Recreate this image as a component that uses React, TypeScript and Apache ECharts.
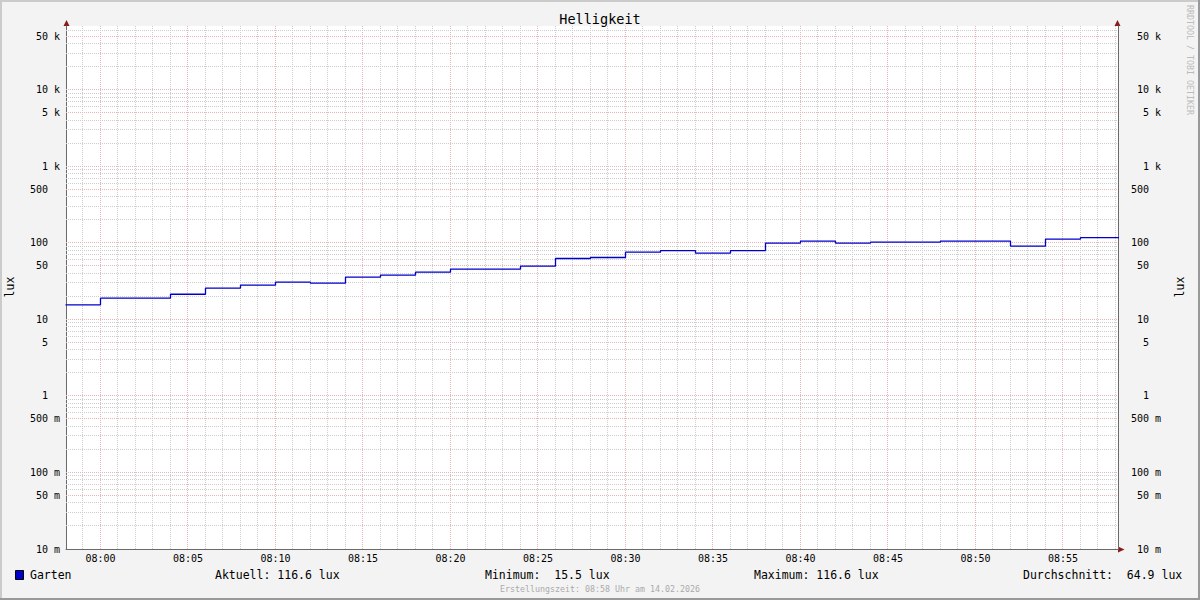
import React, { useEffect, useRef } from 'react';
import * as echarts from 'echarts';

const FONT = '"DejaVu Sans Mono", "Liberation Mono", monospace';

// Step segments: start minute (relative to 08:00) and value in lux
const segStarts = [-2, 0, 4, 6, 8, 10, 12, 14, 16, 18, 20, 24, 26, 28, 30, 32, 34, 36, 38, 40, 42, 44, 48, 52, 54, 56];
const segValues = [15.5, 18.9, 21.3, 25.6, 28.0, 30.6, 29.7, 35.6, 37.8, 41.4, 45.3, 49.6, 62.4, 64.3, 75.5, 79.3, 73.3, 79.3, 99.1, 105.2, 99.1, 102.0, 105.2, 90.5, 111.8, 116.6];
const endMinute = 58.2;

// visible time window in minutes relative to 08:00 (07:58:02 .. 08:58:08)
const xMin = -1.971;
const xMax = 58.143;
const baseHour = 8;
// vertical grid: one line per minute, major every 5 minutes
const xGridMinutes = [-1, 0, 1, 2, 3, 4, 5, 6, 7, 8, 9, 10, 11, 12, 13, 14, 15, 16, 17, 18, 19, 20, 21, 22, 23, 24, 25, 26, 27, 28, 29, 30, 31, 32, 33, 34, 35, 36, 37, 38, 39, 40, 41, 42, 43, 44, 45, 46, 47, 48, 49, 50, 51, 52, 53, 54, 55, 56, 57, 58];
const xLabelMinutes = [0, 5, 10, 15, 20, 25, 30, 35, 40, 45, 50, 55];

const yMin = 0.01;
const yMax = 68000;
const yLabelValues = [0.01, 0.05, 0.1, 0.5, 1, 5, 10, 50, 100, 500, 1000, 5000, 10000, 50000];
const yLabelTexts = ['10 m', '50 m', '100 m', '500 m', '1', '5', '10', '50', '100', '500', '1 k', '5 k', '10 k', '50 k'];
const gridMantissas = [1, 2, 3, 4, 5, 6, 7, 8, 9];
const gridDecades = [0.01, 0.1, 1, 10, 100, 1000, 10000];

const seriesName = 'Garten';
const statCurrent = '116.6';
const statMin = '15.5';
const statMax = '116.6';
const statAvg = '64.9';
const titleText = 'Helligkeit';
const unitText = 'lux';
const createdText = 'Erstellungszeit: 08:58 Uhr am 14.02.2026';
const watermark = 'RRDTOOL / TOBI OETIKER';

const MAJOR = '#E8B4B4';
const MINOR = '#CDCDCD';
const AXIS = '#6A6A6A';
const ARROW = '#8B1A1A';

function yGridValues(): number[] {
  const out: number[] = [];
  gridDecades.forEach((d) => {
    gridMantissas.forEach((m) => {
      const v = Number((m * d).toPrecision(6));
      if (v > yMin && v <= yMax) out.push(v);
    });
  });
  return out;
}

function isYMajor(v: number): boolean {
  return yLabelValues.some((l) => Math.abs(l - v) / l < 1e-6);
}

function yFormatter(val: number): string {
  const idx = yLabelValues.findIndex((v) => Math.abs(v - val) / v < 1e-6);
  if (idx < 0) return '';
  const t = yLabelTexts[idx];
  return t.indexOf(' ') < 0 ? `{n|${t}}` : t;
}

function xFormatter(val: number): string {
  const r = Math.round(val);
  if (Math.abs(val - r) > 1e-6 || xLabelMinutes.indexOf(r) < 0) return '';
  const total = baseHour * 60 + r;
  const h = Math.floor(total / 60);
  const m = total % 60;
  return `${String(h).padStart(2, '0')}:${String(m).padStart(2, '0')}`;
}

export default function App() {
  const ref = useRef<HTMLDivElement>(null);

  useEffect(() => {
    if (!ref.current) return;
    const chart = echarts.init(ref.current, undefined, { renderer: 'svg' });

    const data: [number, number][] = segStarts.map((s, i) => [s, segValues[i]]);
    data.push([endMinute, segValues[segValues.length - 1]]);

    const xGridData = xGridMinutes.map((m) => [m, 1, m % 5 === 0 ? 1 : 0]);
    const yGridData = yGridValues().map((v) => [0, v, isYMajor(v) ? 1 : 0]);

    const yAxisCommon = {
      type: 'log' as const,
      logBase: 10,
      min: yMin,
      max: yMax,
      axisTick: { show: false },
      minorTick: { show: false },
      minorSplitLine: { show: false },
      splitLine: { show: false },
    };

    const yLabel = (margin: number, align?: string) => ({
      customValues: yLabelValues,
      formatter: yFormatter,
      fontFamily: FONT,
      fontSize: 10,
      color: '#000',
      margin,
      showMinLabel: true,
      showMaxLabel: true,
      ...(align ? { align } : {}),
      rich: { n: { padding: [0, 12, 0, 0], fontFamily: FONT, fontSize: 10, color: '#000' } },
    });

    const legendY = 575;
    const legendText = (x: number, text: string) => ({
      type: 'text',
      x,
      y: legendY,
      style: { text, font: `11.5px ${FONT}`, fill: '#000', verticalAlign: 'middle', align: 'left' },
    });

    const vGridRender = (params: any, api: any) => {
      const cs = params.coordSys;
      const p = api.coord([api.value(0), api.value(1)]);
      const x = Math.floor(p[0] + 1e-6) + 0.5;
      if (x <= cs.x + 1 || x >= cs.x + cs.width - 1) return null;
      return {
        type: 'line',
        shape: { x1: x, y1: cs.y, x2: x, y2: cs.y + cs.height },
        style: { stroke: api.value(2) ? MAJOR : MINOR, lineWidth: 1, lineDash: [1, 1] },
        silent: true,
      };
    };
    const hGridRender = (params: any, api: any) => {
      const cs = params.coordSys;
      const p = api.coord([api.value(0), api.value(1)]);
      const y = Math.floor(p[1] + 1e-6) + 0.5;
      return {
        type: 'line',
        shape: { x1: cs.x, y1: y, x2: cs.x + cs.width, y2: y },
        style: { stroke: api.value(2) ? MAJOR : MINOR, lineWidth: 1, lineDash: [1, 1] },
        silent: true,
      };
    };

    chart.setOption({
      animation: false,
      backgroundColor: '#F3F3F3',
      textStyle: { fontFamily: FONT },
      grid: {
        left: 66,
        right: 82,
        top: 26,
        bottom: 51,
        show: true,
        backgroundColor: '#FFFFFF',
        borderWidth: 0,
      },
      xAxis: {
        type: 'value',
        min: xMin,
        max: xMax,
        axisLine: { show: true, onZero: false, lineStyle: { color: AXIS, width: 1 } },
        axisTick: { show: false },
        axisLabel: {
          customValues: xLabelMinutes,
          interval: 0,
          formatter: xFormatter,
          fontFamily: FONT,
          fontSize: 10,
          color: '#000',
          margin: 4,
          showMinLabel: true,
          showMaxLabel: true,
          hideOverlap: false,
        },
        splitLine: { show: false },
      },
      yAxis: [
        {
          ...yAxisCommon,
          position: 'left',
          axisLine: { show: true, onZero: false, lineStyle: { color: AXIS, width: 1 } },
          axisLabel: yLabel(6),
        },
        {
          ...yAxisCommon,
          position: 'right',
          axisLine: { show: true, onZero: false, lineStyle: { color: AXIS, width: 1 } },
          axisLabel: yLabel(43, 'right'),
        },
      ],
      series: [
        {
          type: 'custom',
          name: 'vgrid',
          data: xGridData,
          encode: { x: 0, y: 1 },
          renderItem: vGridRender,
          silent: true,
          z: 1,
          xAxisIndex: 0,
          yAxisIndex: 0,
        },
        {
          type: 'custom',
          name: 'hgrid',
          data: yGridData,
          encode: { x: 0, y: 1 },
          renderItem: hGridRender,
          silent: true,
          z: 1,
          xAxisIndex: 0,
          yAxisIndex: 0,
        },
        {
          name: seriesName,
          type: 'line',
          step: 'end',
          data,
          symbol: 'none',
          lineStyle: { color: '#0000CC', width: 1.3 },
          xAxisIndex: 0,
          yAxisIndex: 0,
          silent: true,
          clip: true,
          z: 5,
        },
      ],
      graphic: [
        { type: 'rect', shape: { x: 0, y: 0, width: 1200, height: 2 }, style: { fill: '#CBCBCB' }, silent: true },
        { type: 'rect', shape: { x: 0, y: 0, width: 2, height: 600 }, style: { fill: '#CBCBCB' }, silent: true },
        { type: 'rect', shape: { x: 0, y: 598, width: 1200, height: 2 }, style: { fill: '#999999' }, silent: true },
        { type: 'rect', shape: { x: 1198, y: 0, width: 2, height: 600 }, style: { fill: '#999999' }, silent: true },
        { type: 'polygon', shape: { points: [[63.5, 26], [69.5, 26], [66.5, 20]] }, style: { fill: ARROW }, silent: true },
        { type: 'polygon', shape: { points: [[1114.5, 26], [1120.5, 26], [1117.5, 20]] }, style: { fill: ARROW }, silent: true },
        { type: 'polygon', shape: { points: [[1118, 546.5], [1118, 552.5], [1124.5, 549.5]] }, style: { fill: ARROW }, silent: true },
        {
          type: 'text',
          x: 600,
          y: 19,
          style: { text: titleText, font: `13.5px ${FONT}`, fill: '#000', align: 'center', verticalAlign: 'middle' },
        },
        {
          type: 'text',
          x: 10,
          y: 287,
          rotation: Math.PI / 2,
          style: { text: unitText, font: `11.5px ${FONT}`, fill: '#000', align: 'center', verticalAlign: 'middle' },
        },
        {
          type: 'text',
          x: 1180,
          y: 287,
          rotation: Math.PI / 2,
          style: { text: unitText, font: `11.5px ${FONT}`, fill: '#000', align: 'center', verticalAlign: 'middle' },
        },
        {
          type: 'text',
          x: 1190,
          y: 60,
          rotation: -Math.PI / 2,
          style: { text: watermark, font: `8.3px ${FONT}`, fill: '#BBBBBB', align: 'center', verticalAlign: 'middle' },
        },
        {
          type: 'rect',
          shape: { x: 15.5, y: 570.5, width: 8, height: 9 },
          style: { fill: '#0000CC', stroke: '#000', lineWidth: 1 },
          silent: true,
        },
        legendText(30, seriesName),
        legendText(215, `Aktuell: ${statCurrent} ${unitText}`),
        legendText(485, `Minimum:  ${statMin} ${unitText}`),
        legendText(754, `Maximum: ${statMax} ${unitText}`),
        legendText(1023, `Durchschnitt:  ${statAvg} ${unitText}`),
        {
          type: 'text',
          x: 600,
          y: 589,
          style: { text: createdText, font: `8.3px ${FONT}`, fill: '#AAAAAA', align: 'center', verticalAlign: 'middle' },
        },
      ],
    });

    return () => {
      chart.dispose();
    };
  }, []);

  return (
    <div
      ref={ref}
      style={{ position: 'fixed', left: 0, top: 0, width: 1200, height: 600 }}
    />
  );
}
